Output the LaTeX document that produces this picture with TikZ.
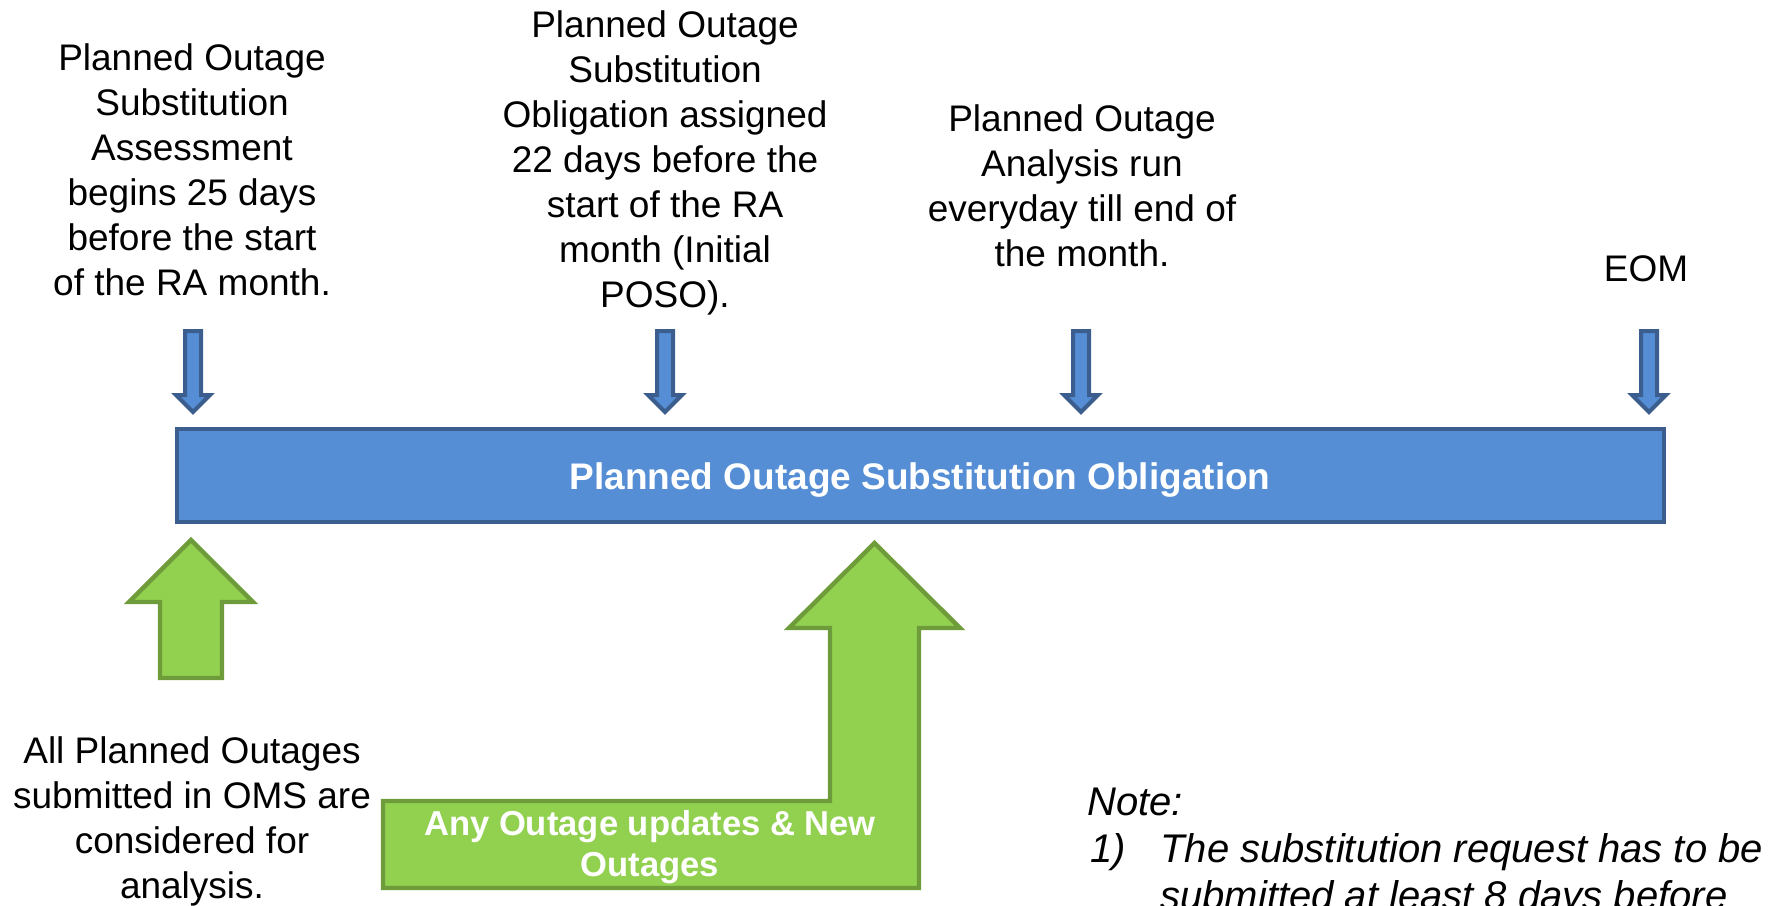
\documentclass[tikz,border=0pt]{standalone}
\usepackage{fontspec}
\setmainfont{Liberation Sans}
\definecolor{barblue}{HTML}{558ED5}
\definecolor{barline}{HTML}{3B5E8F}
\definecolor{arrgreen}{HTML}{92D050}
\definecolor{arrline}{HTML}{6F9C3A}
\begin{document}
\begin{tikzpicture}[x=0.5pt, y=-0.5pt, line join=miter,
    bluebox/.style={fill=barblue, draw=barline, line width=2pt},
    greenbox/.style={fill=arrgreen, draw=arrline, line width=2.2pt},
    txt/.style={align=center, inner sep=0pt, font=\fontsize{18.5}{22.5}\selectfont},
    whitetxt/.style={align=center, inner sep=0pt, text=white, font=\fontsize{17.3}{20.5}\selectfont\bfseries},
    notetxt/.style={anchor=base west, inner sep=0pt, font=\fontsize{20}{23.5}\selectfont\itshape}]

    \useasboundingbox (0,0) rectangle (1771,905);

    % barra principal
    \draw[bluebox] (177,429) rectangle (1664,522);
    \node[whitetxt, font=\fontsize{18.5}{22.5}\selectfont\bfseries] (bar) at (920,480) {Planned Outage Substitution Obligation};

    % setas azuis
    \foreach \c in {193, 665, 1081, 1649}
        \draw[bluebox] (\c-8,331) -- (\c+8,331) -- (\c+8,395) -- (\c+17,395) -- (\c,412) -- (\c-17,395) -- (\c-8,395) -- cycle;

    % setas verdes
    \draw[greenbox] (160,678) -- (160,602) -- (129,602) -- (191,540) -- (253,602) -- (222,602) -- (222,678) -- cycle;
    \draw[greenbox] (383,801) -- (830,801) -- (830,628) -- (789,628) -- (874.5,543) -- (960,628) -- (919,628) -- (919,888) -- (383,888) -- cycle;
    \node[whitetxt] (updates) at (650,847) {Any Outage updates \& New\\Outages};

    % textos
    \node[txt] (assess) at (192,170) {Planned Outage\\Substitution\\Assessment\\begins 25 days\\before the start\\of the RA month.};
    \node[txt] (assign) at (665,163) {Planned Outage\\Substitution\\Obligation assigned\\22 days before the\\start of the RA\\month (Initial\\POSO).};
    \node[txt] (daily) at (1082,186) {Planned Outage\\Analysis run\\everyday till end of\\the month.};
    \node[txt] (eom) at (1646,269) {EOM};
    \node[txt] (allout) at (192,821) {All Planned Outages\\submitted in OMS are\\considered for\\analysis.};

    % nota
    \node[notetxt] (note) at (1087,815) {Note:};
    \node[notetxt] (item) at (1090,862) {1)};
    \node[notetxt] (itemA) at (1160,862) {The substitution request has to be};
    \node[notetxt] (itemB) at (1160,909) {submitted at least 8 days before};
\end{tikzpicture}
\end{document}
